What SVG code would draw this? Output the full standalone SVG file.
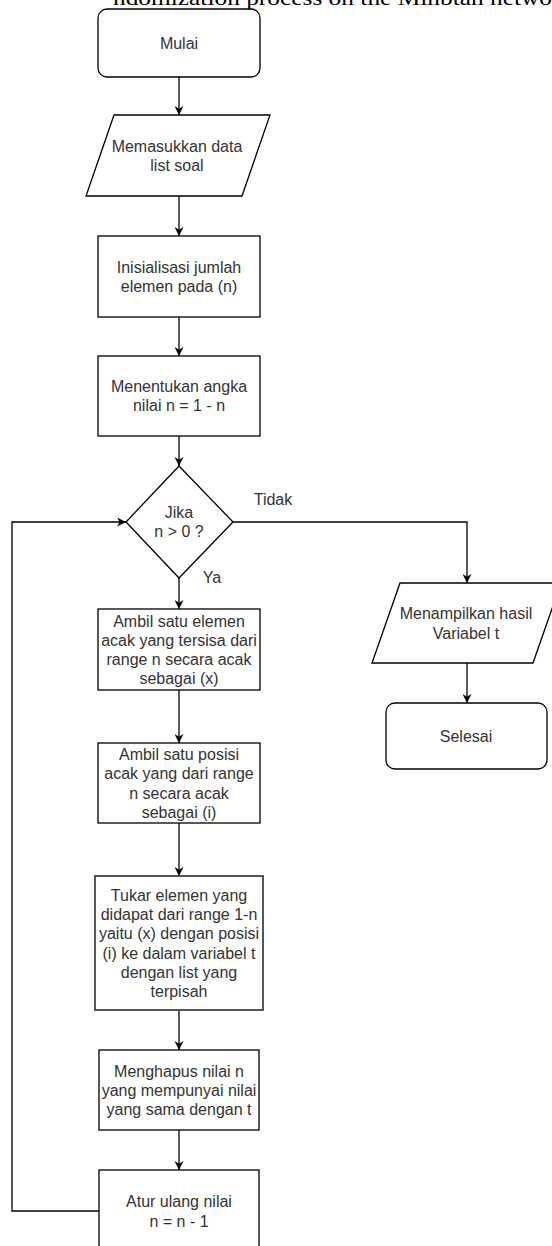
<svg xmlns="http://www.w3.org/2000/svg" width="552" height="1246" viewBox="0 0 552 1246">
<style>
.n{fill:#fff;stroke:#000;stroke-width:1.3}
.t{font-family:"Liberation Sans",Arial,sans-serif;font-size:16px;fill:#333;text-anchor:middle}
.c{fill:none;stroke:#000;stroke-width:1.3}
</style>
<defs>
<marker id="a" viewBox="0 0 10 10" refX="10" refY="5" markerWidth="9" markerHeight="9" markerUnits="userSpaceOnUse" orient="auto">
<path d="M0,0 L10,5 L0,10 L3,5 z" fill="#000"/>
</marker>
</defs>
<rect width="552" height="1246" fill="#fff"/>
<text x="113" y="5" font-family="Liberation Serif,serif" font-size="22" fill="#000" textLength="439" lengthAdjust="spacingAndGlyphs">ndomization process on the Minbtan netwo</text>
<g id="connectors">
<path class="c" d="M179,77 V115" marker-end="url(#a)"/>
<path class="c" d="M179,196 V236" marker-end="url(#a)"/>
<path class="c" d="M179,317 V356" marker-end="url(#a)"/>
<path class="c" d="M179,436 V466" marker-end="url(#a)"/>
<path class="c" d="M179,578 V609" marker-end="url(#a)"/>
<path class="c" d="M179,690 V743" marker-end="url(#a)"/>
<path class="c" d="M179,823 V876" marker-end="url(#a)"/>
<path class="c" d="M179,1010 V1050" marker-end="url(#a)"/>
<path class="c" d="M179,1130 V1170" marker-end="url(#a)"/>
<path class="c" d="M99,1211 H12 V522 H126" marker-end="url(#a)"/>
<path class="c" d="M233,522 H467 V583" marker-end="url(#a)"/>
<path class="c" d="M467,663 V703" marker-end="url(#a)"/>
<text class="t" x="273" y="505">Tidak</text>
<text class="t" x="212" y="583">Ya</text>
</g>
<g id="mulai">
<rect class="n" x="98" y="9" width="162" height="68" rx="9"/>
<text class="t" x="179" y="49">Mulai</text>
</g>
<g id="input">
<polygon class="n" points="114,115 270,115 242,196 86,196"/>
<text class="t" x="177" y="152">Memasukkan data</text>
<text class="t" x="177" y="171">list soal</text>
</g>
<g id="init">
<rect class="n" x="98" y="236" width="162" height="81"/>
<text class="t" x="179" y="273">Inisialisasi jumlah</text>
<text class="t" x="179" y="292">elemen pada (n)</text>
</g>
<g id="tentukan">
<rect class="n" x="98" y="356" width="162" height="80"/>
<text class="t" x="179" y="392">Menentukan angka</text>
<text class="t" x="179" y="411">nilai n = 1 - n</text>
</g>
<g id="decision">
<polygon class="n" points="179,466 233,522 179,578 126,522"/>
<text class="t" x="179" y="518">Jika</text>
<text class="t" x="179" y="537">n &gt; 0 ?</text>
</g>
<g id="ambil1">
<rect class="n" x="98" y="609" width="162" height="81"/>
<text class="t" x="179" y="627">Ambil satu elemen</text>
<text class="t" x="179" y="646">acak yang tersisa dari</text>
<text class="t" x="179" y="665">range n secara acak</text>
<text class="t" x="179" y="684">sebagai (x)</text>
</g>
<g id="ambil2">
<rect class="n" x="98" y="743" width="162" height="80"/>
<text class="t" x="179" y="760">Ambil satu posisi</text>
<text class="t" x="179" y="779">acak yang dari range</text>
<text class="t" x="179" y="799">n secara acak</text>
<text class="t" x="179" y="818">sebagai (i)</text>
</g>
<g id="tukar">
<rect class="n" x="95" y="876" width="168" height="134" style="stroke:#444;stroke-width:1.8"/>
<text class="t" x="179" y="901">Tukar elemen yang</text>
<text class="t" x="179" y="920">didapat dari range 1-n</text>
<text class="t" x="179" y="939">yaitu (x) dengan posisi</text>
<text class="t" x="179" y="959">(i) ke dalam variabel t</text>
<text class="t" x="179" y="978">dengan list yang</text>
<text class="t" x="179" y="997">terpisah</text>
</g>
<g id="hapus">
<rect class="n" x="99" y="1050" width="160" height="80"/>
<text class="t" x="179" y="1077">Menghapus nilai n</text>
<text class="t" x="179" y="1096">yang mempunyai nilai</text>
<text class="t" x="179" y="1115">yang sama dengan t</text>
</g>
<g id="atur">
<rect class="n" x="99" y="1170" width="160" height="82"/>
<text class="t" x="179" y="1207">Atur ulang nilai</text>
<text class="t" x="179" y="1227">n = n - 1</text>
</g>
<g id="output">
<polygon class="n" points="400,583 561,583 533,663 372,663"/>
<text class="t" x="466" y="619">Menampilkan hasil</text>
<text class="t" x="466" y="639">Variabel t</text>
</g>
<g id="selesai">
<rect class="n" x="386" y="703" width="161" height="66" rx="9"/>
<text class="t" x="466" y="742">Selesai</text>
</g>
</svg>
